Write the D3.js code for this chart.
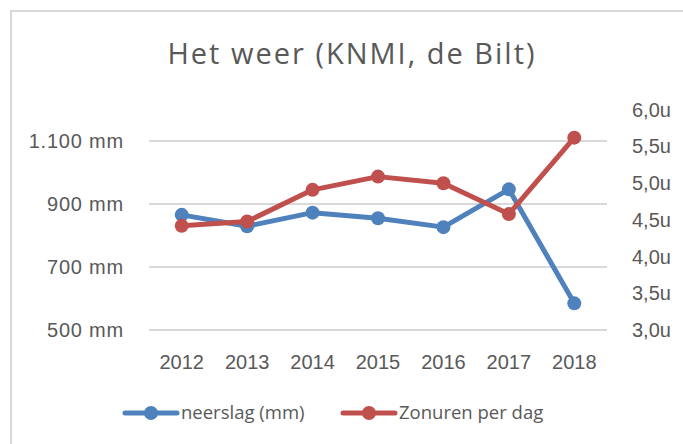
<!DOCTYPE html>
<html>
<head>
<meta charset="utf-8">
<script src="https://cdn.jsdelivr.net/npm/d3@7"></script>
<style>
  body { margin: 0; background: #fff; }
  svg { display: block; font-family: "Open Sans", sans-serif; }
  .tick text { fill: #595959; }
</style>
</head>
<body>
<svg width="683" height="444"></svg>
<script>
// Gegevens
const jaren = ["2012", "2013", "2014", "2015", "2016", "2017", "2018"]
const neerslag = [864, 828, 871, 853, 825, 945, 583]          // mm
const zonuren = [4.41, 4.47, 4.90, 5.08, 4.99, 4.57, 5.61]    // uur per dag
const mmTicks = [500, 700, 900, 1100]
const uurTicks = [3.0, 3.5, 4.0, 4.5, 5.0, 5.5, 6.0]
const reeksen = ["neerslag (mm)", "Zonuren per dag"]

// Afmetingen
const svgWidth = 683
const svgHeight = 444
const marginLeft = 149
const marginTop = 109
const chartWidth = 458
const chartHeight = 220.5

const blauw = "#4F81BD"
const rood = "#C0504D"
const tekst = "#595959"

const nl = d3.formatLocale({decimal: ",", thousands: ".", grouping: [3], currency: ["€", ""]})

// Schalen
const xScale = d3.scaleBand(jaren, [0, chartWidth])
const yLeft = d3.scaleLinear([500, 1200], [chartHeight, 0])
const yRight = d3.scaleLinear([3, 6], [chartHeight, 0])

const svg = d3.select("svg")

// Kader
svg.append("rect")
  .attr("x", 11).attr("y", 11)
  .attr("width", svgWidth).attr("height", svgHeight)
  .attr("fill", "none")
  .attr("stroke", "#D9D9D9")
  .attr("stroke-width", 2)

// Titel
svg.append("text")
  .attr("x", 352)
  .attr("y", 63.5)
  .attr("text-anchor", "middle")
  .attr("font-size", "29px")
  .attr("letter-spacing", "2px")
  .attr("fill", tekst)
  .text("Het weer (KNMI, de Bilt)")

const chart = svg.append("g")
  .attr("transform", `translate(${marginLeft}, ${marginTop})`)

// Rasterlijnen
chart.append("g")
  .call(d3.axisLeft(yLeft).tickValues(mmTicks).tickSize(-chartWidth).tickFormat(""))
  .call(g => g.select(".domain").remove())
  .call(g => g.selectAll("line").attr("stroke", "#D9D9D9").attr("stroke-width", 2))

// Assen
chart.append("g")
  .attr("transform", "translate(-22, 0)")
  .call(d3.axisLeft(yLeft).tickValues(mmTicks).tickSize(0).tickFormat(d => nl.format(",")(d) + " mm"))
  .call(g => g.select(".domain").remove())
  .call(g => g.selectAll("text").attr("font-size", "20px").attr("letter-spacing", "0.8px").attr("dy", "0.35em"))

chart.append("g")
  .attr("transform", `translate(${chartWidth + 22}, 0)`)
  .call(d3.axisRight(yRight).tickValues(uurTicks).tickSize(0).tickFormat(d => nl.format(".1f")(d) + "u"))
  .call(g => g.select(".domain").remove())
  .call(g => g.selectAll("text").attr("font-size", "20px").attr("dy", "0.35em"))

chart.append("g")
  .attr("transform", `translate(0, ${chartHeight + 22})`)
  .call(d3.axisBottom(xScale).tickSize(0))
  .call(g => g.select(".domain").remove())
  .call(g => g.selectAll("text").attr("font-size", "20px"))

// Lijnen
const cx = i => xScale(jaren[i]) + xScale.bandwidth() / 2

function tekenReeks(waarden, schaal, kleur) {
  chart.append("path")
    .datum(waarden)
    .attr("fill", "none")
    .attr("stroke", kleur)
    .attr("stroke-width", 5)
    .attr("stroke-linejoin", "round")
    .attr("d", d3.line((d, i) => cx(i), d => schaal(d)))
  chart.append("g")
    .selectAll("circle")
    .data(waarden)
    .join("circle")
      .attr("cx", (d, i) => cx(i))
      .attr("cy", d => schaal(d))
      .attr("r", 7)
      .attr("fill", kleur)
}

tekenReeks(neerslag, yLeft, blauw)
tekenReeks(zonuren, yRight, rood)

// Legenda
const legenda = svg.append("g").attr("transform", "translate(0, 413)")
const items = [
  {naam: reeksen[0], kleur: blauw, x: 125},
  {naam: reeksen[1], kleur: rood, x: 343}
]
const item = legenda.selectAll("g")
  .data(items)
  .join("g")
    .attr("transform", d => `translate(${d.x}, 0)`)
item.append("line")
  .attr("x1", 0).attr("x2", 52)
  .attr("stroke", d => d.kleur)
  .attr("stroke-width", 5)
  .attr("stroke-linecap", "round")
item.append("circle")
  .attr("cx", 26)
  .attr("r", 7)
  .attr("fill", d => d.kleur)
item.append("text")
  .attr("x", 56)
  .attr("dy", "0.35em")
  .attr("font-size", "18.5px")
  .attr("fill", tekst)
  .text(d => d.naam)
</script>
</body>
</html>
